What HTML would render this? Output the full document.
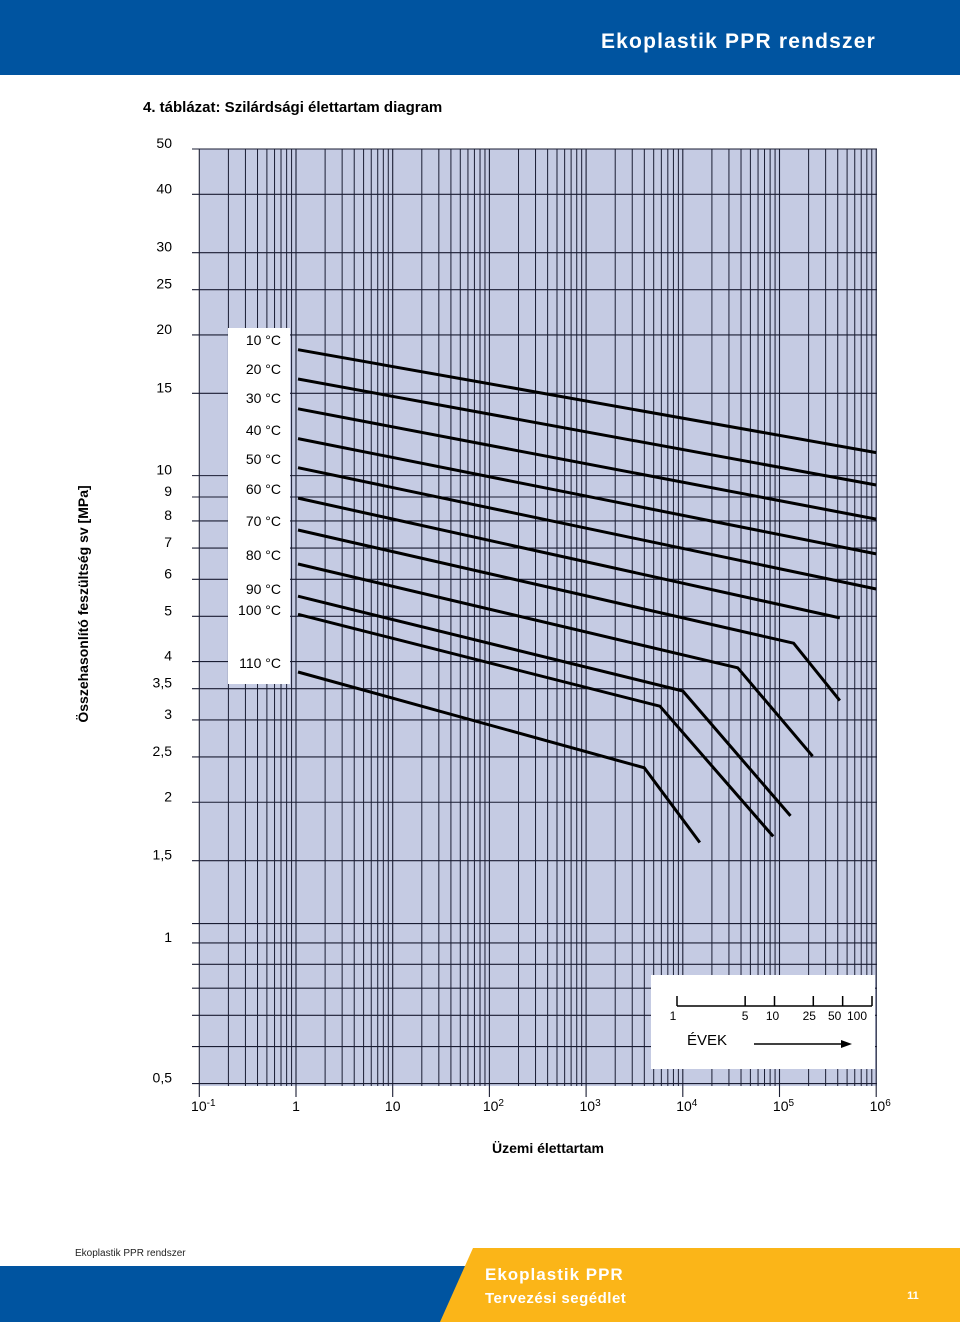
<!DOCTYPE html>
<html><head><meta charset="utf-8"><style>
html,body{margin:0;padding:0;background:#fff;}
body{width:960px;height:1322px;position:relative;overflow:hidden;font-family:"Liberation Sans",sans-serif;}
svg{position:absolute;left:0;top:0;}
</style></head><body>
<svg id="page" width="960" height="1322" viewBox="0 0 960 1322">
<rect x="0" y="0" width="960" height="75" fill="#0054a0"/>
<text x="876" y="48" text-anchor="end" fill="#fff" font-size="21" font-weight="bold" letter-spacing="1.2">Ekoplastik PPR rendszer</text>
<text x="143" y="112" font-size="15" font-weight="bold" fill="#000">4. táblázat: Szilárdsági élettartam diagram</text>
<rect x="200" y="149" width="677" height="937" fill="#c5cbe3"/>
<g id="grid"></g>
<g id="ylabels"></g>
<g id="xlabels"></g>
<rect x="228" y="328" width="62" height="356" fill="#fff"/>
<g id="legend"></g>
<g id="series"></g>
<text transform="translate(88,604) rotate(-90)" text-anchor="middle" font-size="14" font-weight="bold">Összehasonlító feszültség sv [MPa]</text>
<text x="548" y="1153" text-anchor="middle" font-size="14" font-weight="bold">Üzemi élettartam</text>
<g>
<rect x="651" y="975" width="224" height="94" fill="#fff"/>
<line x1="677" y1="1006" x2="872" y2="1006" stroke="#000" stroke-width="1.5"/>
<g id="yearticks"></g>
<text x="687" y="1045" font-size="15">ÉVEK</text>
<line x1="754" y1="1044" x2="845" y2="1044" stroke="#000" stroke-width="1.5"/>
<polygon points="852,1044 841,1040 841,1048" fill="#000"/>
</g>
<text x="75" y="1256" font-size="10" fill="#222">Ekoplastik PPR rendszer</text>
<rect x="0" y="1266" width="480" height="56" fill="#0054a0"/>
<polygon points="473,1248 960,1248 960,1322 440,1322" fill="#fbb518"/>
<text x="485" y="1280" font-size="17" font-weight="bold" fill="#fff" letter-spacing="1">Ekoplastik PPR</text>
<text x="485" y="1303" font-size="15" font-weight="bold" fill="#fff" letter-spacing="0.5">Tervezési segédlet</text>
<text x="913" y="1299" text-anchor="middle" font-size="11" font-weight="bold" fill="#fff">11</text>
</svg>
<script>
const yTicks=[50,40,30,25,20,15,10,9,8,7,6,5,4,3.5,3,2.5,2,1.5,1.1,1,0.9,0.8,0.7,0.6,0.5];
const yTickLabels=["50","40","30","25","20","15","10","9","8","7","6","5","4","3,5","3","2,5","2","1,5","","1","","","","","0,5"];
const xDecades=[-1,0,1,2,3,4,5,6];
const xDecadeLabels=[["10","-1"],["1",""],["10",""],["10","2"],["10","3"],["10","4"],["10","5"],["10","6"]];
const seriesNames=["10 °C","20 °C","30 °C","40 °C","50 °C","60 °C","70 °C","80 °C","90 °C","100 °C","110 °C"];
const seriesTimes=[[1,1e6],[1,1e6],[1,1e6],[1,1e6],[1,1e6],[1,4.2e5],[1,1.4e5,4.2e5],[1,3.7e4,2.2e5],[1,1.0e4,1.3e5],[1,5.8e3,8.6e4],[1,4.0e3,1.5e4]];
const seriesStress=[[18.6,11.2],[16.1,9.55],[13.9,8.07],[12.0,6.8],[10.4,5.72],[8.95,4.96],[7.65,4.38,3.3],[6.47,3.88,2.51],[5.52,3.46,1.87],[5.05,3.21,1.69],[3.8,2.37,1.64]];
const legendY=[340,369,398,430,459,489,521,555,589,610,663];
const yearValues=[1,5,10,25,50,100];
const yearLabelShift=[-4,0,-2,-4,-8,-15];

const NS="http://www.w3.org/2000/svg";
function mk(tag,attrs,parent){const e=document.createElementNS(NS,tag);for(const k in attrs)e.setAttribute(k,attrs[k]);parent.appendChild(e);return e;}
function xs(t){return 296+96.7*Math.log10(t);}
function ys(v){return 149+467.3*Math.log10(50/v);}

const grid=document.getElementById('grid');
yTicks.forEach(v=>{
  const l=mk('line',{x1:192,x2:877,y1:ys(v),y2:ys(v),stroke:'#1a1d33','stroke-width':1.1},grid);
  
  
});
xDecades.forEach((d,i)=>{
  const x=xs(Math.pow(10,d));
  const l=mk('line',{x1:x,x2:x,y1:149,y2:1097,stroke:'#1a1d33','stroke-width':1.1},grid);
  
  
  if(i<xDecades.length-1){
    for(let m=2;m<=9;m++){
      const xm=xs(m*Math.pow(10,d));
      const lm=mk('line',{x1:xm,x2:xm,y1:149,y2:1086,stroke:'#1a1d33','stroke-width':1},grid);
      
      
    }
  }
});
const yl=document.getElementById('ylabels');
yTicks.forEach((v,i)=>{
  if(!yTickLabels[i])return;
  const t=mk('text',{x:172,y:ys(v)-1,'text-anchor':'end','font-size':14},yl);
  t.textContent=yTickLabels[i];
  
  
});
const xl=document.getElementById('xlabels');
xDecades.forEach((d,i)=>{
  const t=mk('text',{x:xs(Math.pow(10,d))+(xDecadeLabels[i][1]?4:0),y:1111,'text-anchor':'middle','font-size':14},xl);
  t.textContent=xDecadeLabels[i][0];
  if(xDecadeLabels[i][1]){const s=mk('tspan',{dy:-5,'font-size':10},t);s.textContent=xDecadeLabels[i][1];}
  
  
});
const lg=document.getElementById('legend');
seriesNames.forEach((n,i)=>{
  const t=mk('text',{x:281,y:legendY[i]+5,'text-anchor':'end','font-size':14},lg);
  t.textContent=n;
  
  
});
const sg=document.getElementById('series');
seriesTimes.forEach((ts,i)=>{
  const pts=ts.map((t,j)=>(t===1?298:xs(t)).toFixed(1)+','+ys(seriesStress[i][j]).toFixed(1)).join(' ');
  const p=mk('polyline',{points:pts,fill:'none',stroke:'#000','stroke-width':3,'stroke-linejoin':'miter'},sg);
  
  
});
const yt=document.getElementById('yearticks');
yearValues.forEach((y,i)=>{
  const x=677+195*Math.log10(y)/2;
  const l=mk('line',{x1:x,x2:x,y1:996,y2:1006,stroke:'#000','stroke-width':1.5},yt);
  
  
  const t=mk('text',{x:x+yearLabelShift[i],y:1020,'text-anchor':'middle','font-size':12},yt);
  t.textContent=String(y);
  
  
});
</script>
</body></html>
